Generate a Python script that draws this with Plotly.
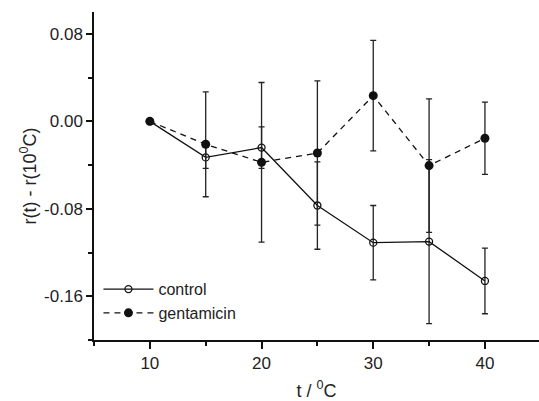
import plotly.graph_objects as go

temps = [10, 15, 20, 25, 30, 35, 40]

control = [0.0, -0.033, -0.024, -0.077, -0.111, -0.110, -0.146]
control_err = [0.0, 0.010, 0.019, 0.040, 0.034, 0.075, 0.030]

gentamicin = [0.0, -0.021, -0.0375, -0.029, 0.0235, -0.0405, -0.0155]
gentamicin_err = [0.0, 0.048, 0.073, 0.066, 0.0505, 0.061, 0.033]

y_tickvals = [-0.16, -0.08, 0.0, 0.08]
y_ticktext = ["-0.16", "-0.08", "0.00", "0.08"]


def main():
    fig = go.Figure()

    fig.add_trace(go.Scatter(
        x=temps,
        y=control,
        error_y=dict(type="data", array=control_err, color="#222222",
                     thickness=1.3, width=3),
        mode="lines+markers",
        name="control",
        line=dict(color="#111111", width=1.3),
        marker=dict(symbol="circle-open", size=7, color="#111111",
                    line=dict(width=1.3)),
    ))

    fig.add_trace(go.Scatter(
        x=temps,
        y=gentamicin,
        error_y=dict(type="data", array=gentamicin_err, color="#222222",
                     thickness=1.3, width=3),
        mode="lines+markers",
        name="gentamicin",
        line=dict(color="#111111", width=1.3, dash="6px,5px"),
        marker=dict(symbol="circle", size=9, color="#111111"),
    ))

    fig.update_layout(
        width=539,
        height=401,
        margin=dict(l=94, r=0, t=12, b=61),
        paper_bgcolor="white",
        plot_bgcolor="white",
        font=dict(family="Liberation Sans, Arial, sans-serif", size=17,
                  color="#222222"),
        showlegend=True,
        legend=dict(
            x=0.01, y=0.03, xanchor="left", yanchor="bottom",
            bgcolor="rgba(0,0,0,0)",
            font=dict(size=16),
            itemwidth=50,
            tracegroupgap=0,
        ),
        xaxis=dict(
            range=[5, 44.84],
            tick0=0, dtick=10,
            ticks="outside", ticklen=7, tickwidth=1.5, tickcolor="#111111",
            minor=dict(dtick=5, ticks="outside", ticklen=4, tickwidth=1.5,
                       tickcolor="#111111"),
            showline=True, linecolor="#111111", linewidth=1.5,
            showgrid=False, zeroline=False,
            title=dict(text="t / <sup>0</sup>C", standoff=12,
                       font=dict(size=18)),
        ),
        yaxis=dict(
            range=[-0.2, 0.1],
            tickvals=y_tickvals, ticktext=y_ticktext,
            ticks="outside", ticklen=6, tickwidth=1.5, tickcolor="#111111",
            minor=dict(tickvals=[-0.2, -0.12, -0.04, 0.04], ticks="outside",
                       ticklen=4, tickwidth=1.5, tickcolor="#111111"),
            showline=True, linecolor="#111111", linewidth=1.5,
            showgrid=False, zeroline=False,
            title=dict(text="r(t) - r(10<sup>0</sup>C)", standoff=3,
                       font=dict(size=18)),
        ),
    )

    # drop the default page margin so the figure fills the window exactly
    fig.write_html("out.html", config={"displayModeBar": False},
                   post_script="document.body.style.margin='0';"
                   "document.body.style.overflow='hidden';")


if __name__ == "__main__":
    main()
